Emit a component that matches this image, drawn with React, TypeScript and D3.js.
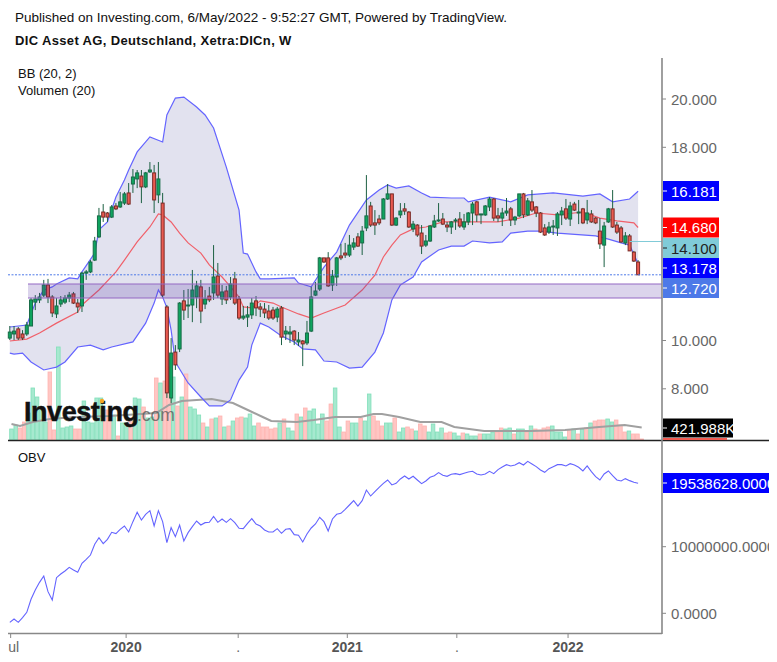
import * as d3 from 'd3'

// weekly candles, oldest first
const opens = [
  10.10,10.27,10.48,10.27,10.27,10.60,11.59,11.68,11.88,12.30,
  11.80,11.10,11.51,11.59,11.76,11.93,11.55,11.43,12.79,12.84,
  13.33,14.29,15.32,15.28,15.11,15.57,15.53,15.69,16.11,16.48,
  16.69,16.81,16.36,16.98,16.94,16.03,15.69,11.39,7.62,9.52,
  9.65,11.64,11.43,11.47,11.80,12.22,11.51,11.84,11.97,12.67,
  11.72,12.05,11.80,12.55,11.72,10.93,10.97,11.06,11.64,11.39,
  11.30,11.22,11.26,10.97,11.35,10.27,10.27,10.39,9.94,9.98,
  9.90,10.39,11.88,12.13,13.42,13.42,12.30,12.63,13.50,13.62,
  13.54,13.87,14.29,14.04,14.66,15.57,14.87,15.03,15.03,15.86,
  16.07,14.78,15.20,15.45,15.32,14.62,14.78,14.45,13.95,14.12,
  14.70,14.95,15.03,14.78,14.70,14.95,15.03,14.70,14.91,15.28,
  15.74,15.20,15.20,15.53,15.86,15.16,15.07,15.28,15.45,14.99,
  15.16,16.07,15.20,15.74,15.53,15.28,14.66,14.49,14.70,14.66,
  15.20,15.45,15.03,15.65,15.28,15.45,14.99,15.24,15.07,14.53,
  13.95,14.91,15.45,14.78,14.66,14.04,14.33,13.66,13.25,
]
const highs = [
  10.60,10.60,10.56,10.43,10.77,11.76,11.88,11.97,12.51,12.55,
  11.88,11.76,11.84,11.88,12.01,12.01,11.72,12.84,12.92,13.33,
  14.29,15.49,15.65,15.32,15.61,15.69,16.15,16.15,16.52,17.10,
  17.06,17.06,16.98,17.39,17.27,17.39,16.11,11.47,10.10,9.81,
  11.59,12.09,12.13,12.92,12.47,12.51,12.09,12.22,13.95,13.21,
  12.30,12.26,12.63,12.84,11.84,11.43,11.43,11.76,11.84,11.55,
  11.55,11.47,11.39,11.39,11.43,10.60,10.60,10.43,10.35,10.02,
  10.81,12.22,12.42,13.46,13.42,13.66,12.92,13.46,14.00,14.04,
  14.37,14.24,14.45,14.74,16.85,15.74,15.40,15.20,15.90,16.48,
  16.07,15.11,15.69,15.69,15.36,14.95,14.82,14.78,14.37,14.78,
  15.20,15.69,15.28,14.91,14.95,15.07,15.32,15.24,15.32,15.74,
  15.78,15.24,15.61,15.94,15.90,15.49,15.49,15.90,15.53,15.16,
  16.07,16.11,15.90,16.23,15.57,15.32,14.82,14.91,14.99,15.32,
  15.53,15.86,15.74,15.74,15.82,15.49,15.82,15.40,15.11,15.07,
  14.91,15.49,16.23,14.91,14.74,14.49,14.41,13.71,13.33,
]
const lows = [
  10.02,10.02,10.02,10.02,10.19,10.60,11.26,11.55,11.80,11.55,
  10.97,10.93,11.39,11.51,11.59,11.51,11.14,11.18,12.51,12.79,
  13.29,14.24,14.91,14.91,15.07,15.40,15.49,15.61,15.61,16.11,
  16.31,15.69,16.31,16.94,15.28,15.69,11.80,7.62,7.41,8.78,
  9.52,10.85,10.93,10.76,11.34,10.72,11.30,11.59,11.68,11.76,
  11.47,11.51,11.68,11.47,10.85,10.85,10.56,10.89,11.01,10.97,
  10.93,10.85,10.85,10.76,9.81,10.02,9.90,9.81,9.77,8.94,
  9.81,10.35,11.84,12.05,13.21,12.22,12.05,12.26,13.33,13.42,
  13.46,13.75,13.87,13.54,14.53,14.70,14.37,14.78,15.03,15.82,
  14.74,14.74,15.07,15.20,14.66,14.49,14.29,13.58,13.87,14.08,
  14.66,14.91,14.78,14.49,14.41,14.58,14.66,14.58,14.78,14.78,
  14.91,14.82,15.16,15.36,14.95,14.91,14.74,15.16,14.74,14.78,
  15.11,15.07,15.16,15.32,15.11,14.45,14.33,14.41,14.37,14.33,
  14.78,14.99,14.74,15.36,14.82,14.82,14.82,14.87,14.82,13.79,
  13.04,14.87,14.66,14.41,14.04,13.95,13.71,13.25,12.71,
]
const closes = [
  10.35,10.39,10.10,10.10,10.64,11.68,11.72,11.80,12.30,11.80,
  11.14,11.43,11.68,11.76,11.88,11.55,11.39,12.79,12.84,13.25,
  14.12,15.16,15.11,15.11,15.53,15.45,15.74,16.07,15.65,16.77,
  16.94,16.36,16.94,17.06,15.82,16.69,11.88,7.83,9.48,8.99,
  11.55,11.26,11.47,12.09,12.26,11.22,11.72,11.68,12.63,11.88,
  12.01,11.68,12.34,11.55,10.93,11.01,11.06,11.55,11.35,11.30,
  11.14,10.93,10.93,11.30,10.14,10.39,10.35,10.02,10.02,9.86,
  10.31,11.80,12.05,13.42,13.25,12.26,12.67,13.42,13.42,13.54,
  13.95,14.04,13.91,14.53,15.16,14.78,14.78,14.87,15.86,16.07,
  14.78,15.07,15.36,15.36,14.70,14.82,14.37,13.91,14.12,14.74,
  14.95,14.99,14.82,14.70,14.91,14.99,14.74,14.91,15.28,15.65,
  15.20,15.24,15.57,15.86,15.07,15.07,15.28,15.36,14.99,15.11,
  16.07,15.20,15.78,15.40,15.28,14.49,14.37,14.70,14.74,15.24,
  15.36,15.07,15.57,15.40,15.32,14.87,15.28,14.91,14.87,14.00,
  14.74,15.45,14.70,14.49,14.08,14.33,13.71,13.29,12.72,
]

// volume in thousands of shares
const volumes = [
  371,506,405,608,912,1756,1452,1013,608,2296,
  338,3140,405,439,473,371,371,1317,608,574,
  1418,1418,1013,1013,844,135,574,574,743,1418,
  1384,1114,743,776,2093,1924,1992,2464,2127,1148,
  1452,2228,1114,1047,844,574,439,709,743,810,
  439,473,641,743,776,743,878,473,574,439,
  439,371,405,574,709,405,304,878,776,1080,
  979,1047,540,878,641,1215,1756,439,270,641,
  574,574,743,641,1553,810,641,473,574,574,
  743,270,405,439,371,304,540,473,270,540,
  270,405,236,270,236,135,236,203,135,135,
  203,203,203,270,270,405,371,405,203,371,
  371,270,473,371,338,405,439,473,270,270,
  101,338,371,203,371,405,574,641,675,675,
  709,608,675,506,270,304,203,203,34,
]
const volMaWeeks = [0,2,5,9,15,23,34,37,40,47,52,56,59,61,67,71,76,82,85,87,91,96,101,104,111,117,122,130,138,144,148]
const volMaValues = [540,473,608,709,776,810,912,1182,1317,1384,1249,979,776,641,608,675,776,776,878,878,776,608,608,439,304,304,304,338,439,506,422]

// Bollinger bands, read at the bends of each line
const upperWeeks = [0,4,6,8,10,11,14,16,17,20,21,23,25,27,28,30,33,36,37,39,41,44,46,48,51,54,55,56,58,59,61,67,68,71,74,77,80,84,87,89,91,94,97,99,104,107,108,113,118,122,128,135,139,142,146,148]
const upperValues = [10.56,10.64,11.55,12.09,12.22,12.34,12.59,12.55,12.84,13.62,14.58,14.91,15.94,16.65,17.06,17.81,18.43,18.22,19.34,20.04,20.08,19.67,19.34,18.80,17.18,15.40,13.62,13.58,12.84,12.55,12.55,12.59,12.38,12.22,13.04,13.66,14.78,15.82,16.23,16.44,16.31,16.40,16.11,15.94,15.90,15.90,15.74,15.94,15.74,16.03,16.11,15.98,16.07,15.74,15.86,16.181]
const middleWeeks = [0,4,7,11,16,17,21,25,27,30,33,35,36,38,40,42,45,47,50,52,54,55,57,59,62,64,68,71,74,79,83,86,88,90,92,95,98,102,109,115,120,124,129,135,139,143,147,148]
const middleValues = [9.98,10.06,10.31,10.72,11.18,11.47,12.09,12.84,13.33,14.08,14.70,15.24,15.20,14.91,14.45,14.04,13.62,13.13,12.63,12.22,11.80,11.39,11.35,11.64,11.55,11.39,11.10,10.93,11.14,11.47,12.09,12.71,13.46,13.95,14.37,14.62,14.70,14.91,14.91,14.91,15.07,15.28,15.20,15.32,15.07,14.95,14.87,14.68]
const lowerWeeks = [0,1,3,5,8,11,13,16,19,22,24,29,32,34,35,36,37,38,39,42,45,47,50,52,54,56,57,59,61,64,67,69,72,74,77,80,83,86,88,90,92,95,97,101,104,107,109,113,116,118,122,125,129,138,141,144,146,148]
const lowerValues = [9.48,9.44,9.48,9.11,8.78,8.90,9.11,9.73,9.81,9.61,9.73,9.94,10.72,11.55,12.09,11.80,11.35,10.43,9.11,8.24,7.66,7.29,7.29,7.54,8.36,8.90,9.81,10.72,10.56,10.19,9.94,9.65,9.61,9.15,9.11,8.86,8.90,9.52,10.31,11.68,12.30,12.63,13.25,13.75,13.91,13.91,14.12,14.04,14.08,14.45,14.53,14.53,14.45,14.33,14.20,14.04,13.95,13.178]

// on balance volume, millions
const obv = [
  -1.36,-0.86,-1.36,-0.66,0.15,2.10,3.50,4.65,5.60,3.25,
  2.00,5.35,5.90,6.35,6.90,6.50,6.15,7.50,8.10,8.75,
  10.36,11.36,10.46,11.11,12.16,11.96,12.61,13.11,12.21,13.76,
  15.16,14.01,14.86,15.41,13.11,15.41,13.76,10.61,12.86,11.51,
  13.26,10.86,12.11,13.01,13.86,13.26,13.61,13.66,14.56,13.66,
  14.16,13.66,14.21,13.61,12.76,12.71,13.51,14.21,13.41,13.11,
  12.51,12.21,12.21,12.71,12.01,12.61,12.71,11.81,11.71,10.71,
  11.91,12.81,13.41,14.41,13.76,12.36,14.16,14.86,15.01,15.61,
  16.26,16.91,16.11,16.91,18.51,17.61,18.26,18.91,19.51,20.02,
  19.27,19.51,20.17,20.62,20.17,20.57,20.02,19.47,19.87,20.42,
  20.67,21.12,20.72,20.57,20.87,20.97,20.82,21.02,21.22,21.32,
  20.92,20.77,20.92,21.32,20.97,21.57,21.97,22.32,22.12,22.27,
  22.62,22.27,22.82,22.42,22.02,21.52,21.17,21.72,22.02,22.32,
  22.32,22.12,22.47,22.27,21.92,21.37,22.12,21.27,20.52,20.02,
  20.92,21.37,20.67,20.02,19.87,20.22,19.92,19.67,19.54,
]

const priceTicks = [20, 18, 10, 8]
const obvTicks = [10, 0]
const timeTicks = [
  { week: 0.2, label: 'ul', bold: false },
  { week: 27.4, label: '2020', bold: true },
  { week: 53.8, label: '.', bold: false },
  { week: 79.5, label: '2021', bold: true },
  { week: 105.3, label: '.', bold: false },
  { week: 131.5, label: '2022', bold: true },
]
const priceTags = [
  { value: 16.181, text: '16.181', fill: '#0000ff', color: '#fff', y: 191 },
  { value: 14.68, text: '14.680', fill: '#ff0000', color: '#fff', y: 227.5 },
  { value: 14.1, text: '14.100', fill: '#80cbd8', color: '#222', y: 248 },
  { value: 13.178, text: '13.178', fill: '#0000ff', color: '#fff', y: 268 },
  { value: 12.72, text: '12.720', fill: '#4d79e8', color: '#fff', y: 288 },
]
const zoneTop = 12.34
const zoneBottom = 11.76
const lastClose = 12.72
const lastLine = 14.1

const font = '"Liberation Sans", Arial, sans-serif'
const axisRight = 662
const axisGrey = '#888'

const x = d3.scaleLinear().domain([0, 148]).range([9.8, 638.1])
const xVol = d3.scaleLinear().domain([0, 148]).range([11.5, 641.7])
const y = d3.scaleLinear().domain([8, 20]).range([388.8, 99])
const yVol = d3.scaleLinear().domain([0, 422]).range([440, 427.5])
const yObv = d3.scaleLinear().domain([0, 10]).range([613.3, 546.7])

const seriesLine = (weeks: number[], values: number[], sx = x, sy = y) =>
  d3.line<number>().x((_, i) => sx(weeks[i])).y(d => sy(d))(values) || ''

const upperPath = seriesLine(upperWeeks, upperValues)
const middlePath = seriesLine(middleWeeks, middleValues)
const lowerPath = seriesLine(lowerWeeks, lowerValues)
const bandPath =
  upperPath +
  'L' +
  seriesLine([...lowerWeeks].reverse(), [...lowerValues].reverse()).slice(1) +
  'Z'
const volMaPath = seriesLine(volMaWeeks, volMaValues, xVol, yVol)
const obvPath = d3.line<number>().x((_, i) => x(i)).y(d => yObv(d))(obv) || ''

export default function App() {
  const plotLeft = 8
  return (
    <svg
      width={777}
      height={662}
      style={{ position: 'absolute', left: 0, top: 0, background: '#fff', fontFamily: font }}
    >
      <defs>
        <clipPath id="pane">
          <rect x={0} y={0} width={769} height={662} />
        </clipPath>
      </defs>

      <text x={15} y={22} fontSize={13.5} fill="#111">
        Published on Investing.com, 6/May/2022 - 9:52:27 GMT, Powered by TradingView.
      </text>
      <text x={15} y={45} fontSize={13} fontWeight="bold" fill="#111" letterSpacing={0.35}>
        DIC Asset AG, Deutschland, Xetra:DICn, W
      </text>
      <text x={18} y={78} fontSize={13} fill="#111">BB (20, 2)</text>
      <text x={18} y={95} fontSize={13} fill="#111">Volumen (20)</text>
      <text x={18} y={462} fontSize={13} fill="#111">OBV</text>

      {/* bollinger fill */}
      <path d={bandPath} fill="#e2e2ef" stroke="none" />

      {/* volume */}
      {volumes.map((v, i) => {
        const up = closes[i] >= opens[i]
        return (
          <rect
            key={i}
            x={xVol(i) - 1.8}
            y={yVol(v)}
            width={3.6}
            height={yVol(0) - yVol(v)}
            fill={up ? '#a6e9cf' : '#ffc6c4'}
            stroke={up ? '#82dfba' : '#ffb3b0'}
            strokeWidth={0.8}
          />
        )
      })}
      <path d={volMaPath} fill="none" stroke="#a0a0a0" strokeWidth={2} />

      {/* logo */}
      <g>
        <text x={24} y={421} fontSize={27} fontWeight="bold" fill="#111" letterSpacing={-0.45} stroke="#111" strokeWidth={0.5}>
          Investing
        </text>
        <text x={137} y={421} fontSize={17.5} fill="#555" opacity={0.75}>.com</text>
        <circle cx={102} cy={401} r={2.2} fill="#f5a623" />
      </g>

      {/* bands */}
      <path d={upperPath} fill="none" stroke="#6464ff" strokeWidth={1.2} />
      <path d={lowerPath} fill="none" stroke="#6464ff" strokeWidth={1.2} />
      <path d={middlePath} fill="none" stroke="#f0606a" strokeWidth={1.2} />

      {/* candles */}
      {opens.map((o, i) => {
        const c = closes[i]
        const up = c >= o
        const top = y(Math.max(o, c))
        const bodyH = Math.max(1, Math.abs(y(o) - y(c)))
        return (
          <g key={i}>
            <line
              x1={x(i)}
              x2={x(i)}
              y1={y(highs[i])}
              y2={y(lows[i])}
              stroke="#1c6043"
              strokeWidth={1}
            />
            <rect
              x={x(i) - 1.5}
              y={top}
              width={3}
              height={bodyH}
              fill={up ? '#0fa45f' : '#ea5a50'}
              stroke={up ? '#176b47' : '#7a2b27'}
              strokeWidth={1}
            />
          </g>
        )
      })}

      {/* support zone */}
      <rect
        x={28}
        y={y(zoneTop)}
        width={axisRight - 28}
        height={y(zoneBottom) - y(zoneTop)}
        fill="#5b3aa8"
        fillOpacity={0.22}
      />
      <line x1={28} x2={axisRight} y1={y(zoneTop)} y2={y(zoneTop)} stroke="#9468c4" strokeWidth={1.2} />
      <line x1={28} x2={axisRight} y1={y(zoneBottom)} y2={y(zoneBottom)} stroke="#9468c4" strokeWidth={1.2} />

      <line x1={plotLeft} x2={axisRight} y1={y(lastClose)} y2={y(lastClose)} stroke="#4d79e8" strokeWidth={1} strokeDasharray="2 1.5" />
      <line x1={x(146)} x2={axisRight} y1={y(lastLine)} y2={y(lastLine)} stroke="#80cbd8" strokeWidth={1} />

      {/* obv */}
      <path d={obvPath} fill="none" stroke="#6464ff" strokeWidth={1.1} />

      {/* frame */}
      <line x1={plotLeft} x2={769} y1={440.5} y2={440.5} stroke="#222" strokeWidth={1.6} />
      <line x1={axisRight} x2={axisRight} y1={58} y2={634} stroke={axisGrey} strokeWidth={1.6} />
      <line x1={plotLeft} x2={axisRight} y1={633.5} y2={633.5} stroke={axisGrey} strokeWidth={1.6} />

      {/* price axis */}
      {priceTicks.map(t => (
        <g key={t}>
          <line x1={axisRight} x2={axisRight + 4} y1={y(t)} y2={y(t)} stroke={axisGrey} />
          <text x={671} y={y(t) + 5.5} fontSize={15} fill="#666">{d3.format('.3f')(t)}</text>
        </g>
      ))}
      {priceTags.map(t => (
        <g key={t.text}>
          <rect x={axisRight + 1} y={t.y - 10} width={56} height={20} fill={t.fill} />
          <line x1={axisRight + 1} x2={axisRight + 5} y1={t.y} y2={t.y} stroke={t.color} />
          <text x={671} y={t.y + 5.5} fontSize={15} fill={t.color}>{t.text}</text>
        </g>
      ))}

      {/* volume tag */}
      <rect x={axisRight + 1} y={438} width={64} height={2} fill="#f05a50" />
      <rect x={axisRight + 1} y={418.5} width={70} height={19} fill="#000" />
      <line x1={axisRight + 1} x2={axisRight + 5} y1={428} y2={428} stroke="#fff" />
      <text x={671} y={433.5} fontSize={15} fill="#fff">421.988K</text>

      {/* obv axis */}
      <g clipPath="url(#pane)">
        {obvTicks.map(t => (
          <g key={t}>
            <line x1={axisRight} x2={axisRight + 4} y1={yObv(t)} y2={yObv(t)} stroke={axisGrey} />
            <text x={671} y={yObv(t) + 5.5} fontSize={15} fill="#666">
              {d3.format('.4f')(t * 1e6)}
            </text>
          </g>
        ))}
        <rect x={axisRight + 1} y={473} width={107} height={20} fill="#0000ff" />
        <line x1={axisRight + 1} x2={axisRight + 5} y1={483} y2={483} stroke="#fff" />
        <text x={671} y={488.5} fontSize={15} fill="#fff">19538628.0000</text>
      </g>

      {/* time axis */}
      {timeTicks.map(t => (
        <g key={t.label + t.week}>
          <line x1={x(t.week)} x2={x(t.week)} y1={634} y2={638} stroke={axisGrey} />
          <text
            x={x(t.week)}
            y={652}
            fontSize={14}
            fontWeight={t.bold ? 'bold' : 'normal'}
            fill={t.bold ? '#555' : '#666'}
            textAnchor={t.label === 'ul' ? 'start' : 'middle'}
            dx={t.label === 'ul' ? -2.5 : 0}
          >
            {t.label}
          </text>
        </g>
      ))}
    </svg>
  )
}
